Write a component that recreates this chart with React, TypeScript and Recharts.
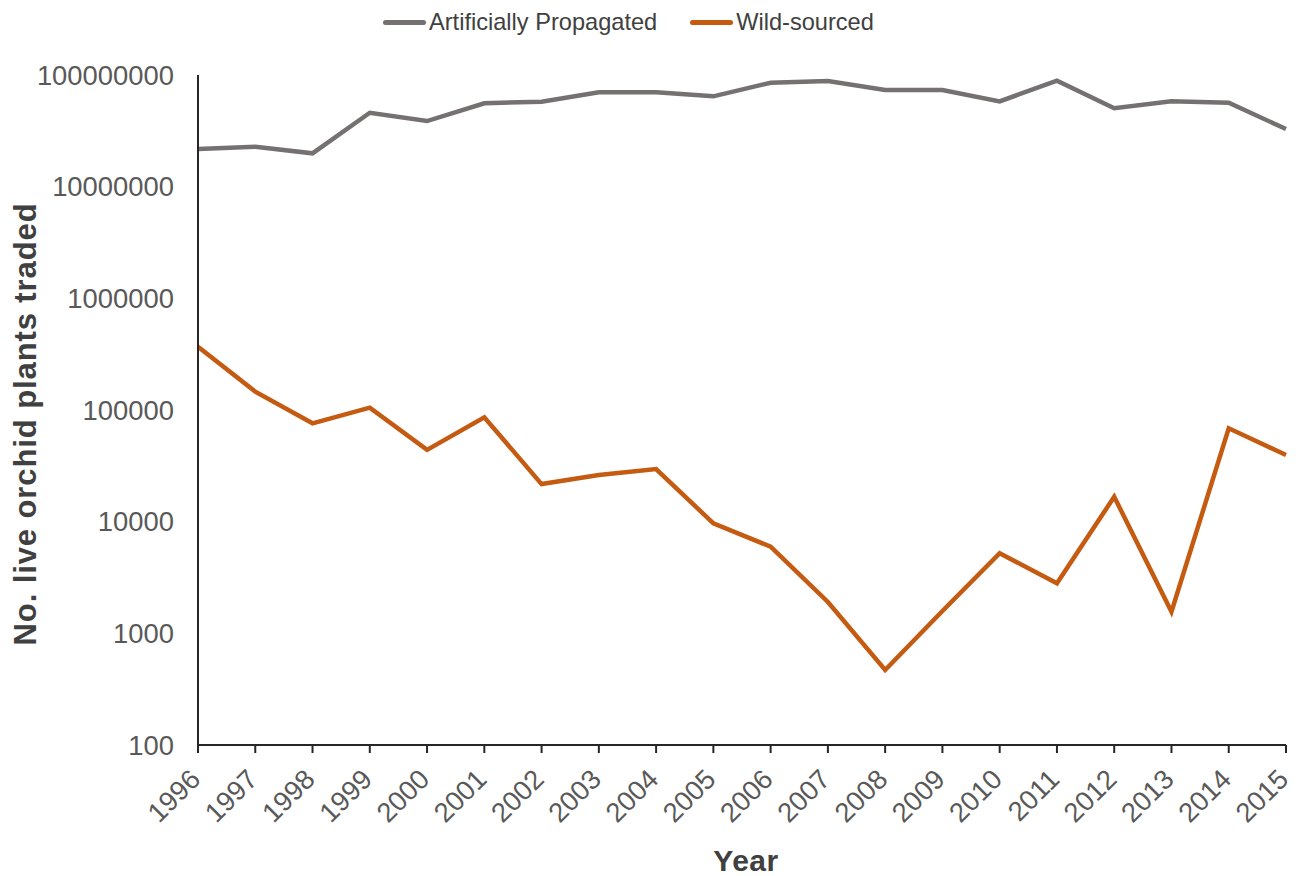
import React from 'react';
import { LineChart, Line, XAxis, YAxis, Legend } from 'recharts';

const years = ['1996', '1997', '1998', '1999', '2000', '2001', '2002', '2003', '2004', '2005', '2006', '2007', '2008', '2009', '2010', '2011', '2012', '2013', '2014', '2015'];
const artificiallyPropagated = [21700000, 22800000, 19900000, 45900000, 38700000, 55800000, 57700000, 70000000, 70000000, 64400000, 85300000, 88300000, 73400000, 73400000, 58100000, 88900000, 50400000, 58100000, 56500000, 32800000];
const wildSourced = [369000, 146000, 76000, 105000, 43900, 86100, 21700, 26200, 29600, 9660, 5970, 1910, 470, 1585, 5210, 2810, 16700, 1560, 68600, 39500];
const yTicks = [100, 1000, 10000, 100000, 1000000, 10000000, 100000000];

const seriesNames = ['Artificially Propagated', 'Wild-sourced'];
const seriesColors = ['#767171', '#C55A11'];

const data = years.map((year, i) => ({ year, ap: artificiallyPropagated[i], wild: wildSourced[i] }));

const FONT = '"Liberation Sans", Arial, Helvetica, sans-serif';

const XTick = (props: any) => {
  const { x, y, payload } = props;
  return (
    <g transform={`translate(${x + 4},${y + 26})`}>
      <text x={0} y={0} textAnchor="end" transform="rotate(-45)" fill="#595959" fontSize={27.4} fontFamily={FONT}>
        {payload.value}
      </text>
    </g>
  );
};

const renderLegend = (props: any) => {
  const { payload } = props;
  return (
    <div style={{ display: 'flex', alignItems: 'center', fontSize: 23.6, color: '#404040', fontFamily: FONT, whiteSpace: 'nowrap' }}>
      {(payload || []).map((entry: any, i: number) => (
        <div key={i} style={{ display: 'flex', alignItems: 'center', marginRight: 33 }}>
          <span style={{ display: 'inline-block', width: 43, height: 5, background: entry.color, marginRight: 3, borderRadius: 2.5 }} />
          <span>{entry.value}</span>
        </div>
      ))}
    </div>
  );
};

const YTitle = () => {
  const cx = 17;
  const cy = 416;
  return (
    <text x={cx} y={cy} transform={`rotate(-90, ${cx}, ${cy})`} textAnchor="middle" dominantBaseline="central" fill="#404040" fontSize={31} letterSpacing={0.9} fontWeight="bold" fontFamily={FONT}>
      No. live orchid plants traded
    </text>
  );
};

const XTitle = (props: any) => {
  const vb = props.viewBox || { x: 190, width: 1088 };
  const cx = vb.x + vb.width / 2 + 4;
  return (
    <text x={cx} y={863} textAnchor="middle" fill="#404040" fontSize={30} letterSpacing={0.5} fontWeight="bold" fontFamily={FONT}>
      Year
    </text>
  );
};

export default function App() {
  return (
    <div style={{ width: 1291, height: 868, fontFamily: FONT }}>
      <LineChart width={1291} height={868} data={data} margin={{ top: 67, right: 13, bottom: 31, left: 0 }}>
        <XAxis
          dataKey="year"
          interval={0}
          height={100}
          tick={<XTick />}
          tickSize={8}
          tickLine={{ stroke: '#262626', strokeWidth: 2 }}
          axisLine={{ stroke: '#262626', strokeWidth: 2 }}
          label={<XTitle />}
        />
        <YAxis
          type="number"
          scale="log"
          domain={[100, 100000000]}
          ticks={yTicks}
          allowDataOverflow
          width={190}
          tickLine={false}
          tickSize={0}
          tickMargin={24}
          tick={{ fill: '#595959', fontSize: 27.4, fontFamily: FONT }}
          axisLine={{ stroke: '#262626', strokeWidth: 2 }}
          label={<YTitle />}
        />
        <Legend
          verticalAlign="middle"
          align="center"
          layout="horizontal"
          wrapperStyle={{ top: 1, left: 375, width: 580, height: 28 }}
          content={renderLegend}
        />
        <Line type="linear" dataKey="ap" name={seriesNames[0]} stroke={seriesColors[0]} strokeWidth={4.5} dot={false} isAnimationActive={false} />
        <Line type="linear" dataKey="wild" name={seriesNames[1]} stroke={seriesColors[1]} strokeWidth={4.5} dot={false} isAnimationActive={false} />
      </LineChart>
    </div>
  );
}
